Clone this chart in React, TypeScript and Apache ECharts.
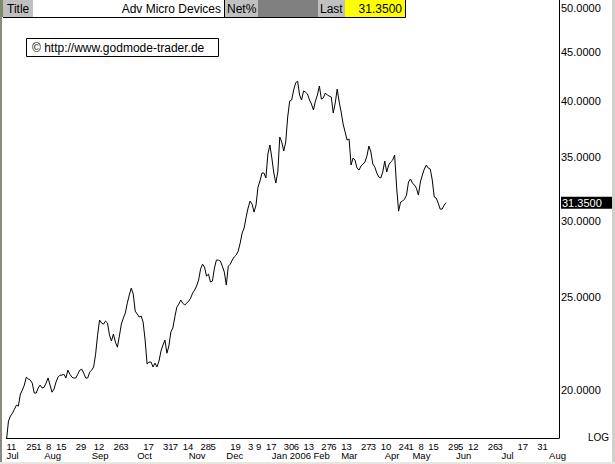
import React, { useEffect, useRef } from 'react';
import * as echarts from 'echarts';

// ---- data ----
const firstDate = '2005-07-11';
const lastDataDate = '2006-05-26';
const lastAxisDate = '2006-08-15';
const holidays = ['2005-09-05', '2005-11-24', '2005-12-26', '2006-01-02', '2006-01-16', '2006-02-20', '2006-04-14'];

const priceValues = [
  17.74, 18.57, 18.79, 18.92, 19.10, 19.29, 19.25, 19.81, 20.00, 20.24,
  20.63, 20.54, 20.49, 20.34, 19.86, 19.86, 20.10, 20.24, 20.10, 20.14,
  20.34, 20.59, 20.24, 19.90, 20.05, 20.39, 20.63, 20.73, 20.73, 20.78,
  20.59, 20.98, 20.78, 20.63, 20.59, 20.59, 20.78, 20.98, 21.03, 20.83,
  20.59, 20.59, 20.88, 20.98, 21.14, 21.80, 22.82, 23.66, 23.49, 23.43,
  23.60, 23.49, 22.82, 22.50, 22.88, 22.44, 22.17, 22.77, 23.43, 23.77,
  24.06, 24.64, 25.12, 25.54, 25.18, 24.17, 24.00, 23.83, 23.89, 23.54,
  22.55, 21.29, 21.39, 21.39, 21.14, 21.34, 21.14, 21.44, 21.96, 22.28,
  22.55, 21.85, 22.23, 22.99, 23.21, 23.83, 24.40, 24.58, 24.82, 24.64,
  24.52, 24.64, 24.76, 24.94, 25.24, 25.42, 25.67, 26.04, 26.73, 27.05,
  26.86, 26.29, 26.41, 25.92, 25.98, 26.80, 27.32, 27.32, 27.25, 26.92,
  26.54, 25.73, 26.92, 27.05, 27.32, 27.52, 27.65, 27.91, 28.46, 29.15,
  29.50, 30.28, 30.95, 31.47, 31.24, 30.65, 31.17, 32.54, 33.02, 33.66,
  33.66, 33.26, 35.23, 36.00, 34.89, 33.66, 32.86, 33.74, 36.69, 36.26,
  35.48, 36.26, 38.50, 40.00, 40.10, 41.07, 41.77, 41.97, 40.58, 40.10,
  40.97, 40.87, 40.68, 40.10, 39.72, 39.15, 40.00, 40.58, 41.47, 40.20,
  40.30, 40.78, 40.58, 40.48, 40.39, 38.87, 39.81, 41.17, 39.91, 38.96,
  37.85, 37.13, 36.43, 36.52, 34.31, 34.89, 34.72, 34.06, 33.90, 34.23,
  34.39, 34.56, 35.06, 35.91, 35.40, 34.39, 34.14, 33.66, 33.34, 33.26,
  33.74, 34.64, 33.74, 34.31, 34.56, 34.72, 35.14, 32.54, 30.72, 31.39,
  31.47, 31.62, 31.93, 32.94, 33.18, 32.86, 32.70, 32.46, 31.93, 32.94,
  33.50, 33.98, 34.31, 34.06, 33.98, 33.10, 31.78, 31.70, 31.32, 30.87,
  30.87, 31.17, 31.35,
];

const lastPrice = 31.35;
const yTickValues = [20, 25, 30, 35, 40, 45, 50];
const yMin = 17.83;
const yMax = 50.97;

const dayLabelDates = [
  '2005-07-11', '2005-07-25', '2005-08-01', '2005-08-08', '2005-08-15', '2005-08-29', '2005-09-12',
  '2005-09-26', '2005-10-03', '2005-10-17', '2005-10-31', '2005-11-07', '2005-11-14', '2005-11-28',
  '2005-12-05', '2005-12-19', '2006-01-03', '2006-01-09', '2006-01-17', '2006-01-30', '2006-02-06',
  '2006-02-13', '2006-02-27', '2006-03-06', '2006-03-13', '2006-03-27', '2006-04-03', '2006-04-10',
  '2006-04-24', '2006-05-01', '2006-05-08', '2006-05-15', '2006-05-29', '2006-06-05', '2006-06-12',
  '2006-06-26', '2006-07-03', '2006-07-17', '2006-07-31',
];

const monthLabelDates = [
  '2005-07-11', '2005-08-05', '2005-09-09', '2005-10-12', '2005-11-17', '2005-12-15', '2006-01-20',
  '2006-02-21', '2006-03-13', '2006-04-12', '2006-05-03', '2006-06-02', '2006-07-05', '2006-08-08',
];
const monthLabelTexts = ['Jul', 'Aug', 'Sep', 'Oct', 'Nov', 'Dec', 'Jan 2006', 'Feb', 'Mar', 'Apr', 'May', 'Jun', 'Jul', 'Aug'];

const headerTitle = 'Title';
const headerName = 'Adv Micro Devices';
const headerNet = 'Net%';
const headerLast = 'Last';
const copyrightText = '\u00A9 http://www.godmode-trader.de';

// ---- build ----
function buildDates(): string[] {
  const out: string[] = [];
  const d = new Date(firstDate + 'T00:00:00Z');
  const end = Date.parse(lastAxisDate + 'T00:00:00Z');
  while (d.getTime() <= end) {
    const dow = d.getUTCDay();
    const s = d.toISOString().slice(0, 10);
    const isHoliday = s <= lastDataDate && holidays.indexOf(s) >= 0;
    if (dow !== 0 && dow !== 6 && !isHoliday) out.push(s);
    d.setUTCDate(d.getUTCDate() + 1);
  }
  return out;
}

const FONT = '"Liberation Sans", Arial, sans-serif';

export default function App() {
  const ref = useRef<HTMLDivElement>(null);

  useEffect(() => {
    if (!ref.current) return;
    const chart = echarts.init(ref.current, undefined, { renderer: 'svg' });
    const dates = buildDates();
    const daySet = new Set(dayLabelDates);
    const monthMap: Record<string, string> = {};
    monthLabelDates.forEach((d, i) => (monthMap[d] = monthLabelTexts[i]));
    const seriesData = dates.map((d, i) => (i < priceValues.length ? priceValues[i] : '-'));

    const option: any = {
      animation: false,
      backgroundColor: '#ffffff',
      grid: { left: 6.5, right: 56, top: 0, bottom: 26, containLabel: false, outerBoundsMode: 'none' },
      xAxis: [
        {
          type: 'category',
          data: dates,
          boundaryGap: false,
          position: 'bottom',
          axisLine: { show: true, lineStyle: { color: '#000', width: 1 } },
          axisTick: { show: false },
          splitLine: { show: false },
          axisLabel: {
            interval: (_i: number, v: string) => daySet.has(v),
            formatter: (v: string) => String(Number(v.slice(8))),
            align: 'left',
            margin: 3,
            fontSize: 9.5,
            color: '#000',
            fontFamily: FONT,
          },
        },
        {
          type: 'category',
          data: dates,
          boundaryGap: false,
          position: 'bottom',
          axisLine: { show: false },
          axisTick: { show: false },
          splitLine: { show: false },
          axisLabel: {
            interval: (_i: number, v: string) => monthMap[v] !== undefined,
            formatter: (v: string) => monthMap[v] || '',
            align: 'left',
            margin: 12.5,
            fontSize: 9.5,
            color: '#000',
            fontFamily: FONT,
          },
        },
      ],
      yAxis: {
        type: 'log',
        logBase: 10,
        min: yMin,
        max: yMax,
        position: 'right',
        axisLine: { show: true, lineStyle: { color: '#000', width: 1 } },
        axisTick: { show: false },
        minorTick: { show: false },
        splitLine: { show: false },
        axisLabel: {
          customValues: [...yTickValues, lastPrice],
          margin: 2,
          color: '#000',
          fontSize: 11,
          fontFamily: FONT,
          formatter: (v: number) =>
            Math.abs(v - lastPrice) < 0.001 ? '{hl|' + v.toFixed(4) + '}' : v.toFixed(4),
          rich: {
            hl: {
              backgroundColor: '#000',
              color: '#fff',
              fontSize: 11,
              fontFamily: FONT,
              padding: [1, 14, 0, 1],
            },
          },
        },
      },
      series: [
        {
          type: 'line',
          data: seriesData,
          showSymbol: false,
          symbol: 'none',
          lineStyle: { color: '#000', width: 1 },
          itemStyle: { color: '#000' },
          connectNulls: false,
        },
      ],
      graphic: [
        { type: 'rect', shape: { x: 0, y: 0, width: 2, height: 464 }, style: { fill: '#8a8a80' }, z: 100 },
        { type: 'rect', shape: { x: 0, y: 0, width: 3, height: 17 }, style: { fill: '#7d8a6c' }, z: 100 },
        { type: 'rect', shape: { x: 612, y: 0, width: 3, height: 464 }, style: { fill: '#d4d0c8' }, z: 100 },
        { type: 'rect', shape: { x: 0, y: 462, width: 615, height: 2 }, style: { fill: '#e8e6e0' }, z: 100 },
        { type: 'rect', shape: { x: 3, y: 0, width: 30, height: 17 }, style: { fill: '#c0c0c0' }, z: 100 },
        { type: 'rect', shape: { x: 33, y: 0, width: 191, height: 17 }, style: { fill: '#ffffff' }, z: 100 },
        { type: 'rect', shape: { x: 225, y: 0, width: 33, height: 17 }, style: { fill: '#c0c0c0' }, z: 100 },
        { type: 'rect', shape: { x: 258, y: 0, width: 60, height: 17 }, style: { fill: '#808080' }, z: 100 },
        { type: 'rect', shape: { x: 318, y: 0, width: 27, height: 17 }, style: { fill: '#c0c0c0' }, z: 100 },
        { type: 'rect', shape: { x: 345, y: 0, width: 60, height: 17 }, style: { fill: '#ffff00' }, z: 100 },
        { type: 'line', shape: { x1: 3, y1: 17.5, x2: 405.5, y2: 17.5 }, style: { stroke: '#000', lineWidth: 1 }, z: 101 },
        { type: 'line', shape: { x1: 224.5, y1: 0, x2: 224.5, y2: 17.5 }, style: { stroke: '#000', lineWidth: 1 }, z: 101 },
        { type: 'line', shape: { x1: 405.5, y1: 0, x2: 405.5, y2: 17.5 }, style: { stroke: '#000', lineWidth: 1 }, z: 101 },
        { type: 'text', style: { text: headerTitle, x: 7, y: 9, font: '12px ' + FONT, fill: '#000', verticalAlign: 'middle' }, z: 102 },
        { type: 'text', style: { text: headerName, x: 221, y: 9, font: '12px ' + FONT, fill: '#000', align: 'right', verticalAlign: 'middle' }, z: 102 },
        { type: 'text', style: { text: headerNet, x: 227, y: 9, font: '12px ' + FONT, fill: '#000', verticalAlign: 'middle' }, z: 102 },
        { type: 'text', style: { text: headerLast, x: 320, y: 9, font: '12px ' + FONT, fill: '#000', verticalAlign: 'middle' }, z: 102 },
        { type: 'text', style: { text: lastPrice.toFixed(4), x: 402, y: 9, font: '12px ' + FONT, fill: '#000', align: 'right', verticalAlign: 'middle' }, z: 102 },
        { type: 'rect', shape: { x: 26.5, y: 38.5, width: 192, height: 18 }, style: { fill: '#fff', stroke: '#000', lineWidth: 1 }, z: 100 },
        { type: 'text', style: { text: copyrightText, x: 32, y: 48, font: '12px ' + FONT, fill: '#000', verticalAlign: 'middle' }, z: 102 },
        { type: 'text', style: { text: 'LOG', x: 609, y: 437, font: '10px ' + FONT, fill: '#000', align: 'right', verticalAlign: 'middle' }, z: 102 },
      ],
    };
    chart.setOption(option);
    return () => chart.dispose();
  }, []);

  return <div ref={ref} style={{ position: 'absolute', left: 0, top: 0, width: 615, height: 464 }} />;
}
